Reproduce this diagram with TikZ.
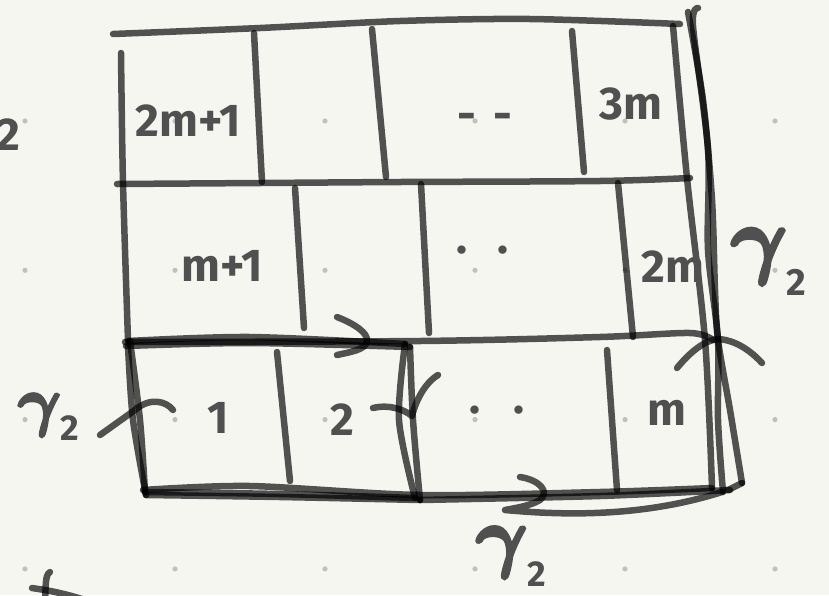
\documentclass[tikz,border=0pt]{standalone}
\usepackage{graphicx}
\usepackage{fontspec}
\setmainfont{Fira Sans}
\definecolor{paper}{RGB}{246,246,241}
\definecolor{dotc}{RGB}{192,192,190}
\definecolor{textc}{RGB}{80,80,80}
\newcommand{\gammalbl}[3]{\scalebox{#1}{\special{pdf:literal direct 2 Tr 0.45 w}\boldmath$\gamma$\special{pdf:literal direct 0 Tr}}\raisebox{#3}{\fontsize{#2}{#2}\selectfont 2}}
\tikzset{
  ink/.style={draw=black, draw opacity=0.67, line width=6.5pt, line cap=round, line join=round},
  lbl/.style={text=textc, font=\fontsize{46}{46}\selectfont\bfseries, inner sep=0pt},
  glbl/.style={text=textc, font=\bfseries, inner sep=0pt, anchor=base west}
}
\begin{document}
\begin{tikzpicture}[x=1pt,y=-1pt]
\fill[paper] (0,0) rectangle (829,595);
\useasboundingbox (0,0) rectangle (829,595);
\clip (0,0) rectangle (829,595);
% dot grid
\foreach \i in {0,...,5} \foreach \j in {0,...,3}
  \fill[dotc] ({25+150*\i},{121+149.3*\j}) circle (2.6);

% horizontal grid lines
\draw[ink] plot[smooth] coordinates {(113,34)(260,28)(400,21)(530,19)(680,24)};
\draw[ink] plot[smooth] coordinates {(117,184)(260,183)(400,182)(600,181)(690,178)};
\draw[ink] plot[smooth] coordinates {(125,342)(420,341)(600,337)(690,333)(713,340)};
\draw[ink] plot[smooth] coordinates {(143,490)(250,486)(420,495)(600,492)(712,488)};

% outer verticals
\draw[ink] plot[smooth] coordinates {(121,53)(123,183)(128,340)};
\draw[ink] plot[smooth] coordinates {(673,26)(687,178)(705,340)(712,488)};
% row 1
\draw[ink] (254,33) -- (262,182);
\draw[ink] (372,29) -- (386,177);
\draw[ink] (572,31) -- (584,172);
% row 2
\draw[ink] (295,188) -- (304,328);
\draw[ink] (421,184) -- (429,333);
\draw[ink] (618,183) -- (633,337);
% row 3
\draw[ink] (277,352) -- (290,481);
\draw[ink] (607,350) -- (617,490);

% bold rectangle around cells 1 and 2 (two strokes)
\draw[ink] plot[smooth] coordinates {(128,341)(250,337)(405,344)};
\draw[ink] plot[smooth] coordinates {(405,344)(399,420)(415,498)};
\draw[ink] plot[smooth] coordinates {(415,498)(280,494)(145,492)};
\draw[ink] plot[smooth] coordinates {(145,492)(140,420)(130,341)};
\draw[ink] plot[smooth] coordinates {(126,346)(250,343)(410,347)};
\draw[ink] plot[smooth] coordinates {(410,347)(413,420)(420,500)};
\draw[ink] plot[smooth] coordinates {(420,500)(280,497)(146,495)};
\draw[ink] plot[smooth] coordinates {(146,495)(133,420)(128,346)};

% gamma_2 path along the right and bottom
\draw[ink] plot[smooth] coordinates {(688,12)(703,100)(712,200)(715,290)(718,340)(730,410)(742,483)};
\draw[ink] (742,483) -- (728,490);
\draw[ink] plot[smooth] coordinates {(698,8)(693,26)(708,150)(708,250)(718,340)(718,420)(723,492)};
\draw[ink] plot[smooth] coordinates {(730,490)(600,496)(420,500)};

% direction marks
\draw[ink] (337,317) .. controls (355,324) and (368,333) .. (367,341) .. controls (366,350) and (350,352) .. (337,355);
\draw[ink] (373,408) .. controls (390,404) and (405,410) .. (412,416) .. controls (416,400) and (425,383) .. (438,375);
\draw[ink] (100,435) -- (135,410) .. controls (150,397) and (166,401) .. (173,410);
\draw[ink] (677,368) .. controls (690,352) and (705,340) .. (718,339) .. controls (735,340) and (750,350) .. (762,363);
\draw[ink] (520,477) .. controls (540,480) and (550,492) .. (540,500) .. controls (530,506) and (515,508) .. (505,510)
  .. controls (560,515) and (640,518) .. (722,492);

% fragment at bottom left
\draw[ink] (50,572) .. controls (45,575) and (46,585) .. (45,600);
\draw[ink] (32,588) .. controls (45,590) and (60,592) .. (85,600);

% cell labels
\node[lbl] (l2m1) at (188,121) {2m+1};
\node[lbl] (ld1) at (485,122) {-\hspace{18pt}-};
\node[lbl] (l3m) at (631,104) {3m};
\node[lbl] (lm1) at (222,266) {m+1};
\node[lbl] (ld2) at (483,250) {.\hspace{30pt}.};
\node[lbl] (l2m) at (673,267) {2m};
\node[lbl] (l1) at (218,418) {1};
\node[lbl] (l2) at (342,420) {2};
\node[lbl] (ld3) at (497,410) {.\hspace{33pt}.};
\node[lbl] (lm) at (667,413) {m};
\node[lbl, anchor=base] (lcut) at (8,150) {2};

% gamma_2 labels
\node[glbl] (gleft) at (18,423) {\gammalbl{6.5}{36}{-17pt}};
\node[glbl] (gright) at (731,267) {\gammalbl{8.5}{38}{-28pt}};
\node[glbl] (gbottom) at (476,562) {\gammalbl{7.8}{36}{-24pt}};
\end{tikzpicture}
\end{document}
